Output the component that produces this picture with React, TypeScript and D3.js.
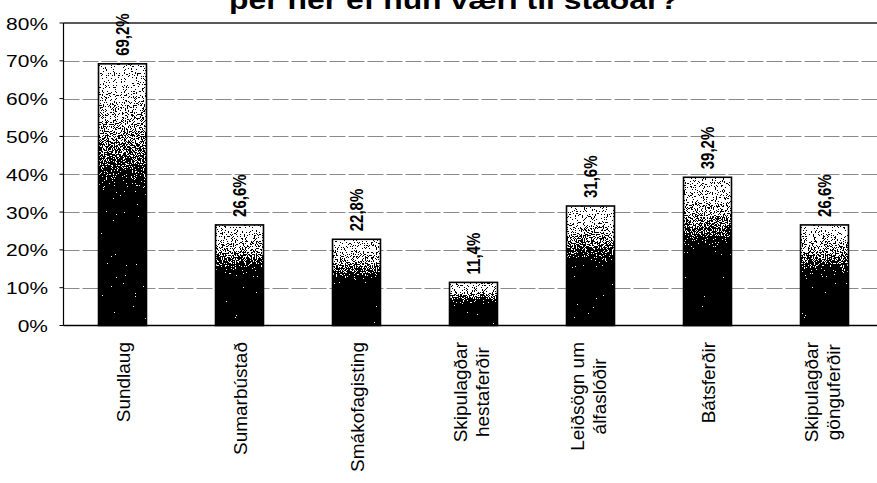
import React, { useEffect, useRef } from 'react'
import * as d3 from 'd3'

const title = 'þér hér ef hún væri til staðar?'
const categories = [
  'Sundlaug',
  'Sumarbústað',
  'Smákofagisting',
  'Skipulagðar\nhestaferðir',
  'Leiðsögn um\nálfaslóðir',
  'Bátsferðir',
  'Skipulagðar\ngönguferðir',
]
const values = [69.2, 26.6, 22.8, 11.4, 31.6, 39.2, 26.6]
const yTicks = [0, 10, 20, 30, 40, 50, 60, 70, 80]

const FONT = "Arial, 'Liberation Sans', sans-serif"

const App = () => {
  const svgRef = useRef<SVGSVGElement>(null)

  useEffect(() => {
    document.body.style.margin = '0'
    const width = 877
    const height = 483
    const left = 63.5
    const top = 23
    const bottom = 325.5

    const svg = d3.select(svgRef.current).attr('width', width).attr('height', height)
    svg.selectAll('*').remove()
    svg.append('rect').attr('width', width).attr('height', height).attr('fill', '#fff')

    const x = d3
      .scaleBand()
      .domain(categories)
      .range([64, 883])
      .paddingInner(0.59)
      .paddingOuter(0.295)
    const y = d3.scaleLinear().domain([0, 80]).range([bottom, top])

    const comma = d3.formatLocale({ decimal: ',', thousands: '.', grouping: [3], currency: ['', ''] })
    const fmt = comma.format('.1f')

    // gradient + noise threshold to get the stippled look of the bars
    const defs = svg.append('defs')
    const grad = defs
      .append('linearGradient')
      .attr('id', 'barGrad')
      .attr('x1', 0)
      .attr('y1', 0)
      .attr('x2', 0)
      .attr('y2', 1)
    const stops: [number, string][] = [
      [0, '#ffffff'],
      [0.1, '#f4f4f4'],
      [0.25, '#c4c4c4'],
      [0.38, '#808080'],
      [0.48, '#2a2a2a'],
      [0.55, '#000000'],
      [1, '#000000'],
    ]
    stops.forEach(([o, c]) => grad.append('stop').attr('offset', o).attr('stop-color', c))

    const filter = defs
      .append('filter')
      .attr('id', 'dither')
      .attr('x', 0)
      .attr('y', 0)
      .attr('width', 1)
      .attr('height', 1)
      .attr('color-interpolation-filters', 'sRGB')
    filter
      .append('feTurbulence')
      .attr('type', 'fractalNoise')
      .attr('baseFrequency', 0.9)
      .attr('numOctaves', 2)
      .attr('seed', 4)
      .attr('result', 'noise')
    filter
      .append('feColorMatrix')
      .attr('in', 'noise')
      .attr('type', 'matrix')
      .attr('values', '1 0 0 0 0  1 0 0 0 0  1 0 0 0 0  0 0 0 0 1')
      .attr('result', 'gray')
    filter
      .append('feComposite')
      .attr('in', 'SourceGraphic')
      .attr('in2', 'gray')
      .attr('operator', 'arithmetic')
      .attr('k1', 0)
      .attr('k2', 1.1)
      .attr('k3', 2.5)
      .attr('k4', -1.5)
      .attr('result', 'sum')
    const ct = filter.append('feComponentTransfer').attr('in', 'sum').attr('result', 'thr')
    ;['feFuncR', 'feFuncG', 'feFuncB'].forEach((f) =>
      ct.append(f).attr('type', 'discrete').attr('tableValues', '0 1')
    )
    filter.append('feComposite').attr('in', 'thr').attr('in2', 'SourceAlpha').attr('operator', 'in')

    // title (top part is cut off)
    svg
      .append('text')
      .attr('transform', 'translate(454, 9) scale(1.25, 1)')
      .attr('text-anchor', 'middle')
      .style('font-family', FONT)
      .style('font-weight', 'bold')
      .style('font-size', '25.5px')
      .text(title)

    // gridlines
    svg
      .append('g')
      .selectAll('line')
      .data(yTicks.filter((t) => t > 0 && t < 80))
      .join('line')
      .attr('x1', left)
      .attr('x2', width)
      .attr('y1', (d) => Math.round(y(d)) + 0.5)
      .attr('y2', (d) => Math.round(y(d)) + 0.5)
      .attr('stroke', '#8a8a8a')
      .attr('stroke-dasharray', '16 3')

    // top border
    svg
      .append('line')
      .attr('x1', left)
      .attr('x2', width)
      .attr('y1', y(80))
      .attr('y2', y(80))
      .attr('stroke', '#222')
      .attr('stroke-width', 1.5)

    // y axis labels
    svg
      .append('g')
      .selectAll('text')
      .data(yTicks)
      .join('text')
      .attr('transform', (d) => `translate(48, ${y(d) + 6.5}) scale(1.27, 1)`)
      .attr('text-anchor', 'end')
      .style('font-family', FONT)
      .style('font-size', '16.5px')
      .text((d) => `${d}%`)

    svg
      .append('g')
      .selectAll('line')
      .data(yTicks)
      .join('line')
      .attr('x1', left - 4)
      .attr('x2', left)
      .attr('y1', (d) => y(d))
      .attr('y2', (d) => y(d))
      .attr('stroke', '#000')

    // bars
    const bars = svg.append('g')
    categories.forEach((c, i) => {
      const bx = x(c) as number
      const by = y(values[i])
      const bh = bottom - by
      bars
        .append('rect')
        .attr('x', bx)
        .attr('y', by)
        .attr('width', x.bandwidth())
        .attr('height', bh)
        .attr('fill', 'url(#barGrad)')
        .attr('filter', 'url(#dither)')
      bars
        .append('rect')
        .attr('x', bx)
        .attr('y', by)
        .attr('width', x.bandwidth())
        .attr('height', bh)
        .attr('fill', 'none')
        .attr('stroke', '#000')
        .attr('stroke-width', 1.6)
    })

    // axes lines
    svg
      .append('line')
      .attr('x1', left)
      .attr('x2', left)
      .attr('y1', top)
      .attr('y2', bottom)
      .attr('stroke', '#000')
      .attr('stroke-width', 1.2)
    svg
      .append('line')
      .attr('x1', left)
      .attr('x2', width)
      .attr('y1', bottom)
      .attr('y2', bottom)
      .attr('stroke', '#000')
      .attr('stroke-width', 1.5)

    // value labels, rotated
    svg
      .append('g')
      .selectAll('text')
      .data(values)
      .join('text')
      .attr(
        'transform',
        (d, i) =>
          `translate(${(x(categories[i]) as number) + x.bandwidth() / 2 + 6}, ${y(d) - 8}) scale(1.22, 1) rotate(-90)`
      )
      .attr('text-anchor', 'start')
      .style('font-family', FONT)
      .style('font-weight', 'bold')
      .style('font-size', '15px')
      .text((d) => `${fmt(d)}%`)

    // category labels, rotated, lines centred on each other
    categories.forEach((c) => {
      const lines = c.split('\n')
      const cx = (x(c) as number) + x.bandwidth() / 2
      const g = svg.append('g').attr('transform', `translate(${cx}, 342) rotate(-90)`)
      const texts = lines.map((ln, j) =>
        g
          .append('text')
          .attr('y', lines.length === 1 ? 7 : j === 0 ? -7 : 15)
          .style('font-family', FONT)
          .style('font-size', '19px')
          .text(ln)
      )
      if (lines.length === 1) {
        texts[0].attr('text-anchor', 'end')
      } else {
        const maxLen = d3.max(texts, (t) => (t.node() as SVGTextElement).getComputedTextLength()) || 0
        texts.forEach((t) => t.attr('text-anchor', 'middle').attr('x', -maxLen / 2))
      }
    })
  }, [])

  return <svg ref={svgRef}></svg>
}

export default App
